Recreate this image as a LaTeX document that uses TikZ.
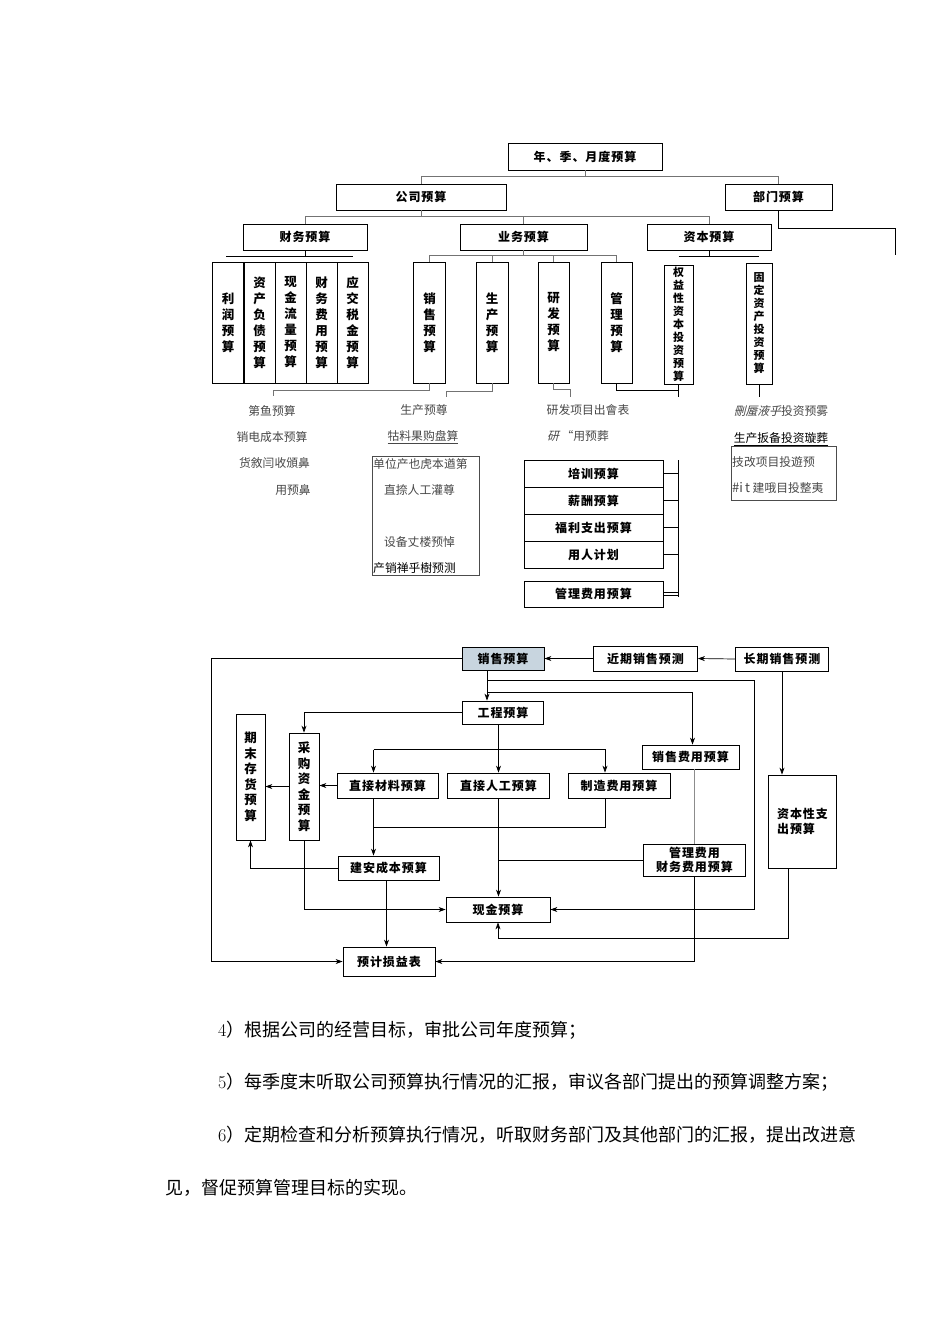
\documentclass[tikz,border=0pt]{standalone}
\usepackage{fontspec}
\newfontfamily\cjk{Noto Sans CJK SC}
\newfontfamily\cjkw[LetterSpace=8]{Noto Sans CJK SC}
\newfontfamily\cjkit[FakeSlant=0.25]{Noto Sans CJK SC}
\usetikzlibrary{arrows.meta}

\definecolor{boxblue}{RGB}{200,213,223}

\begin{document}
\begin{tikzpicture}[x=1pt,y=-1pt]

\tikzset{box/.style = {draw, line width=0.8pt, inner sep=0pt, align=center, font=\cjkw\bfseries\fontsize{12}{14.5}\selectfont}}
\tikzset{col/.style = {box, minimum width=31, minimum height=121, font=\cjk\bfseries\fontsize{12.5}{16}\selectfont}}
\tikzset{thincol/.style = {box, font=\cjk\bfseries\fontsize{11}{13}\selectfont}}
\tikzset{note/.style = {inner sep=0pt, text=black!72, font=\cjk\fontsize{11.8}{13}\selectfont}}
\tikzset{listbox/.style = {draw=black!70, line width=0.5pt, inner sep=0pt}}
\tikzset{para/.style = {inner sep=0pt, anchor=west, font=\cjk\fontsize{18}{20}\selectfont}}
\tikzset{link/.style = {draw=black!55, line width=0.7pt}}
\tikzset{edge/.style = {line width=0.7pt, -{Stealth[length=7pt,width=5pt]}}}

\fill[white] (0,0) rectangle (950,1344);
\useasboundingbox (0,0) rectangle (950,1344);

%boxes, first chart
\node[box, minimum width=154, minimum height=27] (year) at (585,156.5) {年、季、月度预算};
\node[box, minimum width=170, minimum height=26] (company) at (421,197) {公司预算};
\node[box, minimum width=107, minimum height=26] (dept) at (778.5,197) {部门预算};
\node[box, minimum width=124, minimum height=26] (fin) at (305,237) {财务预算};
\node[box, minimum width=127, minimum height=26] (biz) at (523.5,237) {业务预算};
\node[box, minimum width=124, minimum height=26] (cap) at (709,237) {资本预算};

\node[col] (pl)  at (228,322.5)   {利\\润\\预\\算};
\node[col] (bs)  at (259.5,322.5) {资\\产\\负\\债\\预\\算};
\node[col] (cf)  at (290.5,322.5) {现\\金\\流\\量\\预\\算};
\node[col] (ff)  at (321.5,322.5) {财\\务\\费\\用\\预\\算};
\node[col] (tax) at (352.5,322.5) {应\\交\\税\\金\\预\\算};

\node[col, minimum width=32] (sales) at (429.5,322.5) {销\\售\\预\\算};
\node[col, minimum width=32] (prod)  at (492,322.5)   {生\\产\\预\\算};
\node[col] (rd)   at (553.5,322.5) {研\\发\\预\\算};
\node[col] (mgmt) at (616.5,322.5) {管\\理\\预\\算};
\node[thincol, minimum width=29, minimum height=119] (equity) at (678.5,324.5) {权\\益\\性\\资\\本\\投\\资\\预\\算};
\node[thincol, minimum width=26, minimum height=121] (fixed) at (759,323.5) {固\\定\\资\\产\\投\\资\\预\\算};

%notes
\node[note] (n1) at (272,411) {第鱼预算};
\node[note] (n2) at (272,437) {销电成本预算};
\node[note] (n3) at (274.5,463) {货敘闫收頒鼻};
\node[note] (n4) at (293,490) {用预鼻};
\node[note] (n5) at (424,410) {生产预尊};
\node[note] (n6) at (423,437) {\underline{牯料果购盘算}};
\node[listbox, minimum width=107, minimum height=119] (prodlist) at (425.5,515.5) {};
\node[note, anchor=west] (n7) at (373,464) {单位产也虎本遒第};
\node[note] (n8) at (419.5,490) {直捺人工灌尊};
\node[note] (n9) at (419.5,542) {设备丈楼预悼};
\node[note, anchor=west, text=black] (n10) at (373,568) {产销禅乎樹预测};
\node[note] (n11) at (588,410) {研发项目出會表};
\node[note] (n12) at (578,436) {{\cjkit 研}\ “用预葬};
\node[note] (n13) at (781,411) {{\cjkit 刪蜃液乎}投资预雾};
\node[note, text=black] (n14) at (781,439) {\underline{生产扳备投资璇葬}};
\node[listbox, minimum width=105, minimum height=54] (invlist) at (783.5,473) {};
\node[note, anchor=west] (n15) at (732,462) {技改项目投遊预};
\node[note, anchor=west] (n16) at (732,488) {{\cjk\fontsize{13}{13}\selectfont\#i\,t}\ 建哦目投整夷};

\node[box, minimum width=139, minimum height=27] (train)   at (593.5,473.5) {培训预算};
\node[box, minimum width=139, minimum height=27] (salary)  at (593.5,500.5) {薪酬预算};
\node[box, minimum width=139, minimum height=27] (welfare) at (593.5,527.5) {福利支出预算};
\node[box, minimum width=139, minimum height=27] (staff)   at (593.5,554.5) {用人计划};
\node[box, minimum width=139, minimum height=26] (mfee)    at (593.5,594)   {管理费用预算};

%edges, first chart
\draw[link] (year.south) -- ++(0,7);
\draw[link] (company.north) -- ++(0,-7) -| (dept.north);
\draw[link] (company.south) -- ++(0,7);
\draw[link] (fin.north) -- ++(0,-7) -| (cap.north);
\draw[link] (biz.north) -- ++(0,-7);
\coordinate (deptend) at (895,255);
\draw[line width=0.8pt] (dept.south) -- ++(0,18) -| (deptend);

\draw[line width=0.8pt] (fin.south) -- ++(0,6) coordinate (finbar);
\draw[line width=1.4pt] ([xshift=-2pt]finbar -| pl) -- (finbar -| tax);
\draw[link] (biz.south) -- ++(0,6);
\draw[link] (sales.north) -- ++(0,-6) -| (mgmt.north);
\draw[link] (prod.north) -- ++(0,-6);
\draw[link] (rd.north) -- ++(0,-6);
\draw[line width=0.8pt] (cap.south) -- ++(0,6) coordinate (capbar);
\draw[line width=1.4pt] (capbar -| equity) -- (capbar -| fixed);

\coordinate (salestxt) at (273,396);
\coordinate (prodtxt) at (446,397);
\coordinate (rdtxt) at (570,397);
\draw[link] (sales.south) -- ++(0,7) -| (salestxt);
\draw[link] (prod.south) -- ++(0,8) -| (prodtxt);
\draw[link] (rd.south) -- ++(0,6) -| (rdtxt);
\draw[line width=0.8pt] (mgmt.south) -- ++(0,7) -| (equity.south);
\draw[line width=0.8pt] (equity.south) -- ++(0,13);
\draw[line width=0.8pt] (fixed.south) -- ++(0,13);

\coordinate (spine) at (678,460);
\draw[line width=0.8pt] (spine) -- ++(0,137);
\foreach \n in {train,salary,welfare,staff}
  \draw[line width=0.8pt] (\n.east) -- (\n.east -| spine);
\draw[line width=0.8pt] ([yshift=2pt]mfee.east) -- ([yshift=2pt]mfee.east -| spine);
\draw[line width=0.8pt] ([yshift=-1.5pt]mfee.east) -- ([yshift=-1.5pt]mfee.east -| spine);

%boxes, second chart
\node[box, fill=boxblue, minimum width=82, minimum height=23] (sb) at (503,658.5) {销售预算};
\node[box, minimum width=104, minimum height=25] (near) at (645.5,658.5) {近期销售预测};
\node[box, minimum width=93, minimum height=24] (long) at (782,659) {长期销售预测};
\node[box, minimum width=81, minimum height=23] (eng) at (503,712.5) {工程预算};
\node[box, minimum width=97, minimum height=24] (sfee) at (690.5,757) {销售费用预算};
\node[box, minimum width=68, minimum height=93, align=left] (capex) at (802.5,821.5) {资本性支\\出预算};
\node[col, minimum width=29, minimum height=126, font=\cjk\bfseries\fontsize{12.5}{15.5}\selectfont] (stock) at (250.5,777) {期\\末\\存\\货\\预\\算};
\node[col, minimum width=30, minimum height=107, font=\cjk\bfseries\fontsize{12.5}{15.5}\selectfont] (purch) at (304,786.5) {采\\购\\资\\金\\预\\算};
\node[box, minimum width=101, minimum height=25] (mat) at (387.5,785.5) {直接材料预算};
\node[box, minimum width=102, minimum height=25] (lab) at (498.5,785.5) {直接人工预算};
\node[box, minimum width=102, minimum height=25] (mfg) at (619,785.5) {制造费用预算};
\node[box, minimum width=101, minimum height=24] (build) at (388.5,868) {建安成本预算};
\node[box, minimum width=102, minimum height=32] (admin) at (694.5,860) {管理费用\\财务费用预算};
\node[box, minimum width=104, minimum height=25] (cash) at (498,909.5) {现金预算};
\node[box, minimum width=92, minimum height=29] (pnl) at (389,961.5) {预计损益表};

%edges, second chart
\draw[edge] (long.west) -- (near.east);
\draw[edge] (near.west) -- (sb.east);
\draw[edge] (sb.west) -| ([xshift=-131pt]pnl.west) -- (pnl.west);
\draw[edge] ([xshift=-16pt]sb.south) -- ([xshift=-16pt]eng.north);
\coordinate (b1) at ([xshift=-16pt,yshift=-10pt]sb.south);
\coordinate (b2) at ([xshift=-16pt,yshift=-22pt]sb.south);
\draw[edge] (b1) -| ([xshift=204pt]cash.east) -- (cash.east);
\draw[edge] (b2) -| ([xshift=2pt]sfee.north);
\draw[edge] (eng.west) -| (purch.north);
\draw[edge] (eng.south -| lab.north) -- (lab.north);
\draw[edge] ([xshift=-14pt,yshift=23pt]mat.north) -- ([xshift=-14pt]mat.north);
\draw[edge] ([xshift=-14pt,yshift=23pt]mat.north) -| ([xshift=-14pt]mfg.north);
\draw[edge] (mat.west) -- (mat.west -| purch.east);
\draw[edge] (purch.west) -- (purch.west -| stock.east);
\draw[edge] ([xshift=-14pt]mat.south) -- ([xshift=-14pt]mat.south |- build.north);
\draw[line width=0.7pt] ([xshift=-14pt]mfg.south) |- ([xshift=-14pt,yshift=-29pt]mat.south);
\draw[edge] (build.west) -| (stock.south);
\draw[edge] ([xshift=-2pt]build.south) -- ([xshift=-2pt]build.south |- pnl.north);
\draw[edge] (purch.south) |- (cash.west);
\draw[edge] (lab.south) -- (lab.south |- cash.north);
\draw[line width=0.7pt] (admin.west) -- (admin.west -| lab.south);
\draw[black!45, line width=0.7pt] (admin.north |- sfee.south) -- (admin.north);
\draw[edge] (admin.south) |- (pnl.east);
\draw[edge] (long.south) -- (long.south |- capex.north);
\draw[edge] ([xshift=-14pt]capex.south) |- ([yshift=-16pt]cash.south) -- (cash.south);

%text
\node[para] (p4) at (218,1030) {{\rmfamily 4}）根据公司的经营目标，审批公司年度预算；};
\node[para] (p5) at (218,1082) {{\rmfamily 5}）每季度末听取公司预算执行情况的汇报，审议各部门提出的预算调整方案；};
\node[para] (p6) at (218,1135) {{\rmfamily 6}）定期检查和分析预算执行情况，听取财务部门及其他部门的汇报，提出改进意};
\node[para] (p7) at (165,1188) {见，督促预算管理目标的实现。};

\end{tikzpicture}
\end{document}
